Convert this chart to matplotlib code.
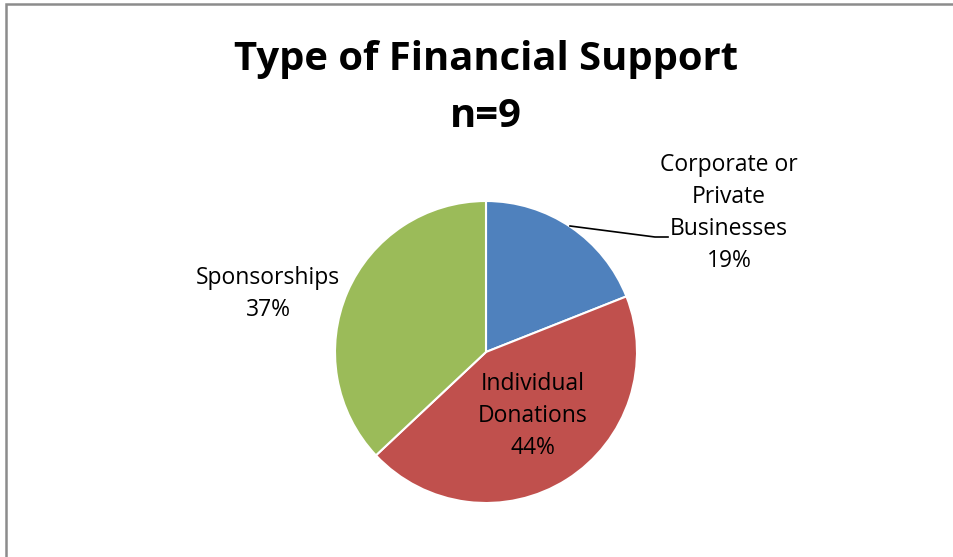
import matplotlib.pyplot as plt
from matplotlib.patches import Rectangle

# support types, clockwise from 12 o'clock
labels = ['Corporate or\nPrivate\nBusinesses', 'Individual\nDonations', 'Sponsorships']
shares = [19, 44, 37]
colors = ['#4F81BD', '#C0504D', '#9BBB59']

W, H = 954, 557
cx, cy, R = 486, 352, 151  # pie centre and radius in pixels

fig = plt.figure(figsize=(W / 100, H / 100), dpi=100)
ax = fig.add_axes([0, 0, 1, 1])

def px(x, y):
    return ((x - cx) / R, (cy - y) / R)

wedges, _ = ax.pie(shares, colors=colors, startangle=90, counterclock=False,
                   radius=1.0, wedgeprops=dict(edgecolor='white', linewidth=1.5))
ax.set_aspect('auto')
ax.set_xlim(-cx / R, (W - cx) / R)
ax.set_ylim(-(H - cy) / R, cy / R)
ax.axis('off')

# chart frame
fig.patches.append(Rectangle((6 / W, -0.1), 1.2, (H - 4) / H + 0.1,
                             transform=fig.transFigure, fill=False,
                             edgecolor='#8c8c8c', linewidth=1.8))

font = 'Open Sans'
fig.text(486 / W, 1 - 70 / H, 'Type of Financial Support', ha='center', va='baseline',
         fontsize=28.8, fontweight='bold', family=font)
fig.text(486 / W, 1 - 127 / H, 'n=9', ha='center', va='baseline',
         fontsize=28.8, fontweight='bold', family=font)

# data labels
label_pos = [(729, 213), (533, 416), (268, 294)]
for lab, val, (x, y) in zip(labels, shares, label_pos):
    ax.text(*px(x, y), f'{lab}\n{val}%', ha='center', va='center',
            fontsize=16.5, family=font, linespacing=1.45)

# leader line for the outside label
lx, ly = zip(px(570, 226), px(655, 237), px(668, 237))
ax.plot(lx, ly, color='black', linewidth=1.2)

fig.savefig('out.png', dpi=100)
